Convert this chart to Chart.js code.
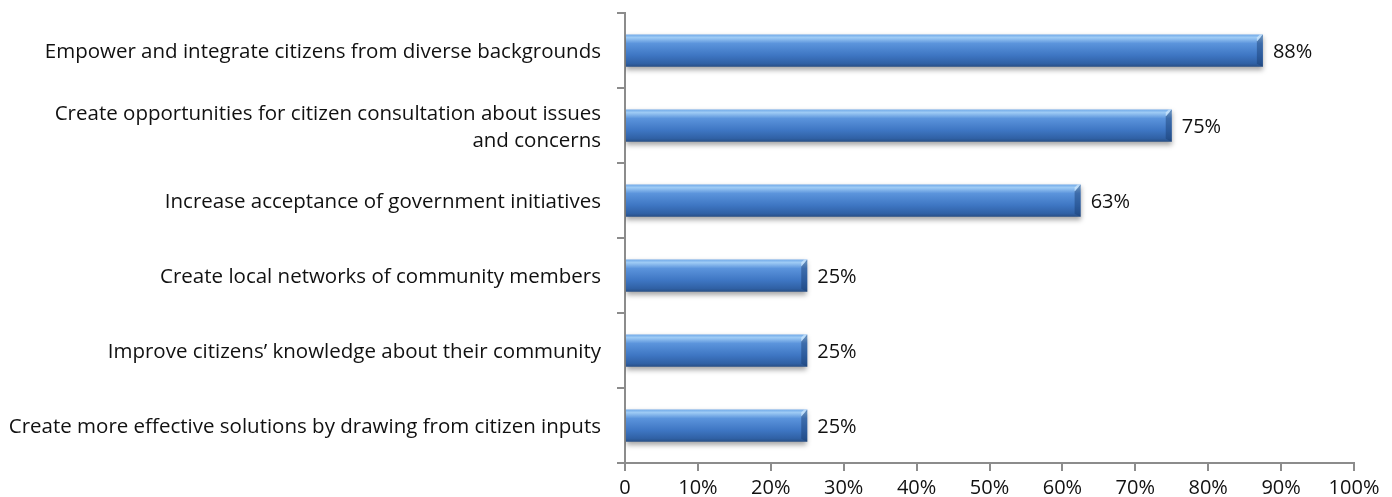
<!DOCTYPE html>
<html>
<head>
<meta charset="utf-8">
<script src="https://cdn.jsdelivr.net/npm/chart.js@4/dist/chart.umd.min.js"></script>
<style>
  html, body { margin: 0; padding: 0; background: #fff; }
  #wrap { width: 1392px; height: 497px; position: relative; }
</style>
</head>
<body>
<div id="wrap"><canvas id="chart"></canvas></div>
<script>
// survey goals, top to bottom
const goals = [
  "Empower and integrate citizens from diverse backgrounds",
  ["Create opportunities for citizen consultation about issues", "and concerns"],
  "Increase acceptance of government initiatives",
  "Create local networks of community members",
  "Improve citizens\u2019 knowledge about their community",
  "Create more effective solutions by drawing from citizen inputs"
];
const shares = [87.5, 75, 62.5, 25, 25, 25];
const xTicks = [0, 10, 20, 30, 40, 50, 60, 70, 80, 90, 100];

const FONT = "'Open Sans', 'Noto Sans', sans-serif";
const AXIS = "#8c8c8c";
const BAR_PCT = 0.43;

// vertical gradient per bar, placed from the category scale
function barFill(ctx) {
  const chart = ctx.chart;
  const y = chart.scales.y;
  if (!chart.chartArea || !y || ctx.dataIndex === undefined) return "#4a86d0";
  const mid = y.getPixelForValue(ctx.dataIndex);
  const half = (y.height / goals.length) * BAR_PCT / 2;
  const g = chart.ctx.createLinearGradient(0, mid - half, 0, mid + half);
  g.addColorStop(0, "#6fa8e8");
  g.addColorStop(0.1, "#9ecbf5");
  g.addColorStop(0.28, "#5b94dc");
  g.addColorStop(0.65, "#3e76c3");
  g.addColorStop(0.9, "#3061a5");
  g.addColorStop(1, "#284f86");
  return g;
}

// soft drop shadow under the bars
const shadow = {
  id: "shadow",
  beforeDatasetsDraw(chart) {
    const c = chart.ctx;
    c.save();
    c.shadowColor = "rgba(0,0,0,0.35)";
    c.shadowBlur = 5;
    c.shadowOffsetY = 3;
  },
  afterDatasetsDraw(chart) { chart.ctx.restore(); }
};

// bevelled right end + value labels
const barEnds = {
  id: "barEnds",
  afterDatasetsDraw(chart) {
    const c = chart.ctx;
    const meta = chart.getDatasetMeta(0);
    meta.data.forEach((bar, i) => {
      const h = bar.height, top = bar.y - h / 2, right = bar.x;
      c.save();
      c.beginPath();
      c.moveTo(right, top);
      c.lineTo(right, top + h);
      c.lineTo(right - 6, top + h - 3);
      c.lineTo(right - 6, top + 7);
      c.closePath();
      c.fillStyle = "rgba(25,60,110,0.45)";
      c.fill();
      c.beginPath();
      c.moveTo(right, top);
      c.lineTo(right - 6, top + 7);
      c.lineTo(right - 6, top + 3);
      c.lineTo(right - 3, top);
      c.closePath();
      c.fillStyle = "rgba(220,240,255,0.6)";
      c.fill();
      c.restore();

      c.save();
      c.font = "20px " + FONT;
      c.fillStyle = "#111";
      c.textAlign = "left";
      c.textBaseline = "middle";
      c.fillText(Math.round(shares[i]) + "%", right + 10, bar.y + 2);
      c.restore();
    });
  }
};

new Chart(document.getElementById("chart"), {
  type: "bar",
  data: {
    labels: goals,
    datasets: [{
      data: shares,
      backgroundColor: barFill,
      borderWidth: 0,
      categoryPercentage: 1,
      barPercentage: BAR_PCT
    }]
  },
  options: {
    indexAxis: "y",
    responsive: true,
    maintainAspectRatio: false,
    animation: false,
    layout: { padding: { top: 13, right: 38, left: 0, bottom: 0 } },
    plugins: { legend: { display: false }, tooltip: { enabled: false } },
    scales: {
      x: {
        min: 0, max: 100,
        afterBuildTicks(axis) { axis.ticks = xTicks.map(v => ({ value: v })); },
        afterFit(axis) { axis.height = 34; axis.paddingLeft = 0; axis.paddingRight = 0; },
        border: { color: AXIS, width: 2 },
        grid: { drawOnChartArea: false, color: AXIS, lineWidth: 2, tickLength: 8 },
        ticks: {
          color: "#111",
          font: { family: FONT, size: 20 },
          padding: 5,
          maxRotation: 0,
          callback: v => v === 0 ? "0" : v + "%"
        }
      },
      y: {
        offset: true,
        afterFit(axis) { axis.width = 625; axis.paddingTop = 0; axis.paddingBottom = 0; },
        border: { color: AXIS, width: 2 },
        grid: { offset: true, drawOnChartArea: false, color: AXIS, lineWidth: 2, tickLength: 8 },
        ticks: {
          color: "#111",
          font: { family: FONT, size: 20.5, lineHeight: 1.33 },
          padding: 16,
          labelOffset: 2
        }
      }
    }
  },
  plugins: [shadow, barEnds]
});
</script>
</body>
</html>
